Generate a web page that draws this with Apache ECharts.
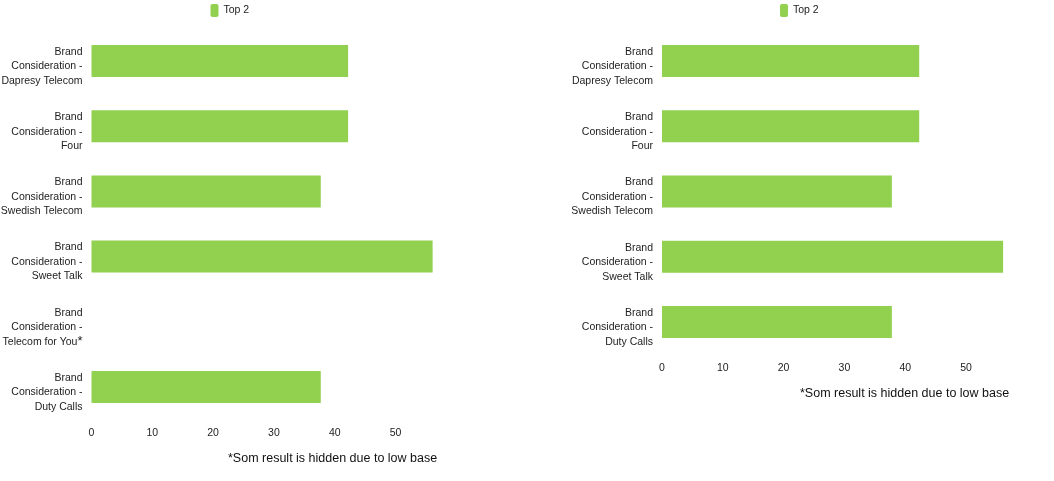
<!DOCTYPE html>
<html>
<head>
<meta charset="utf-8">
<script src="https://cdn.jsdelivr.net/npm/echarts@6/dist/echarts.min.js"></script>
<style>
  html, body { margin: 0; padding: 0; background: #fff; }
  #chart-box { width: 1054px; height: 481px; }
</style>
</head>
<body>
<div id="chart-box"></div>
<script>
// categories for each panel (top to bottom)
const leftCategories = [
    'Brand\nConsideration -\nDapresy Telecom',
    'Brand\nConsideration -\nFour',
    'Brand\nConsideration -\nSwedish Telecom',
    'Brand\nConsideration -\nSweet Talk',
    'Brand\nConsideration -\nTelecom for You{star|*}',
    'Brand\nConsideration -\nDuty Calls'
]
const rightCategories = [
    'Brand\nConsideration -\nDapresy Telecom',
    'Brand\nConsideration -\nFour',
    'Brand\nConsideration -\nSwedish Telecom',
    'Brand\nConsideration -\nSweet Talk',
    'Brand\nConsideration -\nDuty Calls'
]
// Top 2 values, hidden result left empty
const leftValues = [42.2, 42.2, 37.7, 56.1, null, 37.7]
const rightValues = [42.3, 42.3, 37.8, 56.1, 37.8]
const seriesName = 'Top 2'
const footnote = '*Som result is hidden due to low base'

const green = '#92D050'
const font = 'Liberation Sans, Arial, sans-serif'

const yLabel = {
    color: '#222',
    fontSize: 10.5,
    fontFamily: font,
    lineHeight: 14.5,
    align: 'right',
    margin: 9,
    padding: [11, 0, 0, 0],
    rich: {
        star: {fontSize: 13, color: '#222', fontFamily: font, verticalAlign: 'top', lineHeight: 14.5}
    }
}
const xLabel = {
    color: '#222',
    fontSize: 10.5,
    fontFamily: font,
    margin: 8,
    showMaxLabel: false
}

function valueAxis(gridIndex) {
    return {
        type: 'value',
        gridIndex: gridIndex,
        min: 0,
        max: 57,
        interval: 10,
        axisLine: {show: false},
        axisTick: {show: false},
        splitLine: {show: false},
        axisLabel: xLabel
    }
}

function categoryAxis(gridIndex, data) {
    return {
        type: 'category',
        gridIndex: gridIndex,
        data: data,
        inverse: true,
        axisLine: {show: false},
        axisTick: {show: false},
        axisLabel: yLabel
    }
}

const legendBase = {
    data: [seriesName], top: 4, padding: 0,
    itemWidth: 8, itemHeight: 13, itemGap: 6,
    icon: 'roundRect',
    textStyle: {fontSize: 10.5, fontFamily: font, color: '#222', padding: [3, 0, 0, 0]}
}

const chart = echarts.init(document.getElementById('chart-box'))
const option = {
    animation: false,
    backgroundColor: '#fff',
    legend: [
        Object.assign({}, legendBase, {left: 210.5}),
        Object.assign({}, legendBase, {left: 780})
    ],
    grid: [
        {left: 91.5, top: 28.5, width: 346.6, height: 391, outerBoundsMode: 'none'},
        {left: 662, top: 28.5, width: 346.6, height: 326, outerBoundsMode: 'none'}
    ],
    xAxis: [valueAxis(0), valueAxis(1)],
    yAxis: [categoryAxis(0, leftCategories), categoryAxis(1, rightCategories)],
    series: [
        {
            name: seriesName, type: 'bar', xAxisIndex: 0, yAxisIndex: 0,
            data: leftValues, barWidth: 32,
            itemStyle: {color: green}
        },
        {
            name: seriesName, type: 'bar', xAxisIndex: 1, yAxisIndex: 1,
            data: rightValues, barWidth: 32,
            itemStyle: {color: green}
        }
    ],
    graphic: [
        {
            type: 'text', left: 228, top: 452,
            style: {text: footnote, fontSize: 12.5, fontFamily: font, fill: '#111'}
        },
        {
            type: 'text', left: 800, top: 387,
            style: {text: footnote, fontSize: 12.5, fontFamily: font, fill: '#111'}
        }
    ]
}
chart.setOption(option)
</script>
</body>
</html>
